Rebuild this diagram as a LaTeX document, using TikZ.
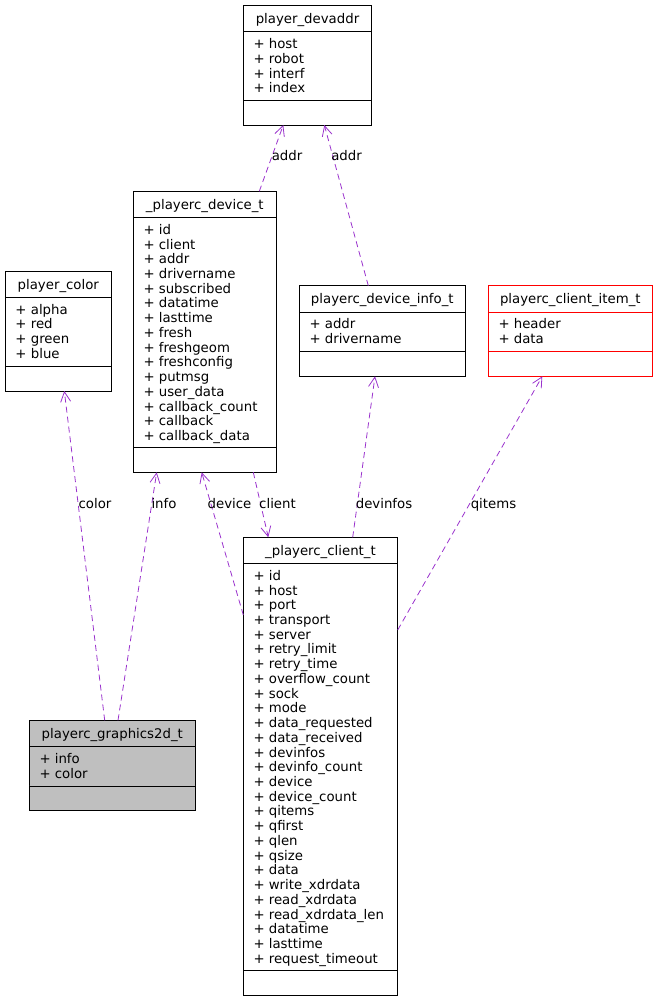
\documentclass[tikz,border=0pt]{standalone}
\usepackage{fontspec}
\setmainfont{DejaVu Sans}
\usetikzlibrary{arrows.meta}

\definecolor{linkpurple}{RGB}{154,50,205}
\definecolor{gfxgray}{RGB}{191,191,191}

% one doxygen class box: [look]{name}{x}{y}{width}{attr height}{title}{fields}
\newcommand{\classbox}[8][draw=black]{%
  \node[classbox, #1, minimum width=#5, minimum height=#6+51, anchor=north west] (#2) at (#3,#4) {};
  \draw[#1] (#3,#4+26) -- ++(#5,0);
  \draw[#1] (#3,#4+26+#6) -- ++(#5,0);
  \node[boxtext] (#2-title) at (#3+#5/2,#4+18) {#7};
  \foreach \fld [count=\i] in {#8}
    \node[boxtext, anchor=base west] (#2-\i) at (#3+10,#4+43+\i*14.73-14.73) {+ \fld};
}

\tikzset{
  classbox/.style={rectangle, line width=0.9pt, outer sep=0pt, inner sep=0pt},
  boxtext/.style={inner sep=0pt, anchor=base, font=\fontsize{13.3}{14.7}\selectfont},
  link/.style={draw=linkpurple, line width=0.8pt, dash pattern=on 6pt off 4pt,
    -{Straight Barb[length=10pt,width=10pt]}},
  lbl/.style={boxtext}
}

\begin{document}
\begin{tikzpicture}[x=1pt, y=-1pt]

\useasboundingbox (0,0) rectangle (656,1000);

% Classes
\classbox{devaddr}{243.3}{5.7}{128.4}{68.3}{player\_devaddr}{host, robot, interf, index}
\classbox{dev}{133.3}{191.3}{143}{230}{\_playerc\_device\_t}{id, client, addr, drivername, subscribed, datatime, lasttime, fresh, freshgeom, freshconfig, putmsg, user\_data, callback\_count, callback, callback\_data}
\classbox{color}{5.3}{271}{106}{69}{player\_color}{alpha, red, green, blue}
\classbox{info}{299.3}{285.7}{166}{39.6}{playerc\_device\_info\_t}{addr, drivername}
\classbox[draw=red]{item}{488.3}{285.7}{164}{39.6}{playerc\_client\_item\_t}{header, data}
\classbox{client}{243.3}{537.3}{154.4}{406.7}{\_playerc\_client\_t}{id, host, port, transport, server, retry\_limit, retry\_time, overflow\_count, sock, mode, data\_requested, data\_received, devinfos, devinfo\_count, device, device\_count, qitems, qfirst, qlen, qsize, data, write\_xdrdata, read\_xdrdata, read\_xdrdata\_len, datatime, lasttime, request\_timeout}
\classbox[draw=black, fill=gfxgray]{gfx}{29.3}{720.3}{166}{39.6}{playerc\_graphics2d\_t}{info, color}

% Links
\draw[link] ([xshift=75.4]gfx.north west) -- ([xshift=59]color.south west);
\draw[link] ([xshift=88.7]gfx.north west) -- ([xshift=23.4]dev.south west);
\draw[link] ([yshift=-77.7]client.north west) -- ([xshift=68.4]dev.south west);
\draw[link] ([xshift=120]dev.south west) -- ([xshift=25]client.north west);
\draw[link] ([xshift=126]dev.north west) -- ([xshift=40]devaddr.south west);
\draw[link] ([xshift=69]info.north west) -- ([xshift=81]devaddr.south west);
\draw[link] ([xshift=109.4]client.north west) -- ([xshift=75.7]info.south west);
\draw[link] ([yshift=-92.7]client.north east) -- ([xshift=54]item.south west);

% Link labels
\node[lbl] (l-color) at (95,508) {color};
\node[lbl] (l-info) at (164,508) {info};
\node[lbl] (l-device) at (229.5,508) {device};
\node[lbl] (l-client) at (277.5,508) {client};
\node[lbl] (l-addr1) at (287,161) {addr};
\node[lbl] (l-addr2) at (346.5,161) {addr};
\node[lbl] (l-devinfos) at (384,508) {devinfos};
\node[lbl] (l-qitems) at (493.5,508) {qitems};

\end{tikzpicture}
\end{document}
